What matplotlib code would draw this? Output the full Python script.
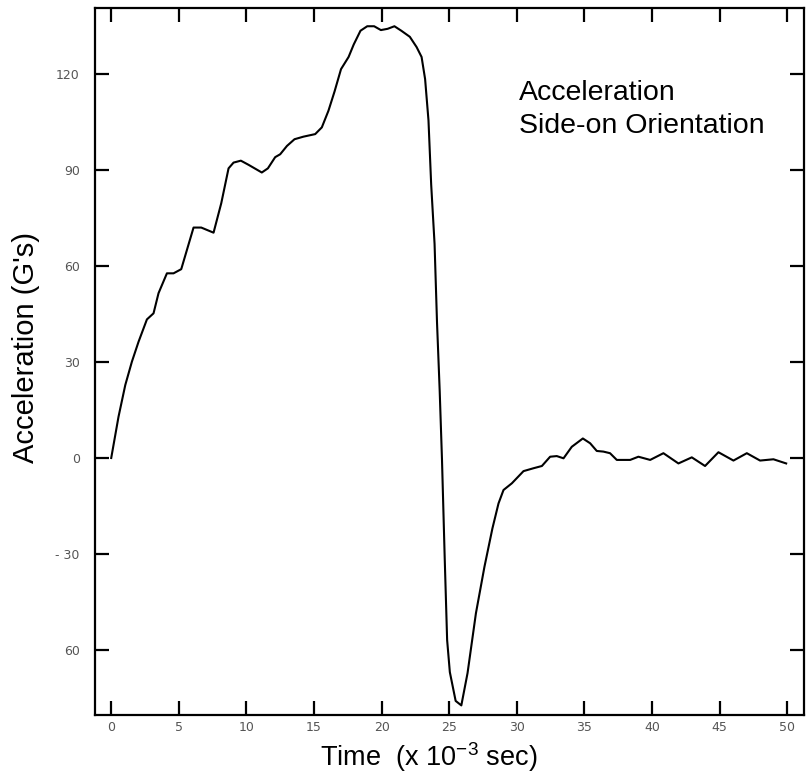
import matplotlib
matplotlib.use("Agg")
import matplotlib.pyplot as plt

plt.rcParams['font.family'] = ['Liberation Sans', 'DejaVu Sans']
plt.rcParams['mathtext.fontset'] = 'custom'
plt.rcParams['mathtext.rm'] = 'Liberation Sans'

# time in ms, acceleration in G's
time_ms = [0, 0.54, 1.04, 1.53, 2.02, 2.64, 3.13, 3.5, 4.12, 4.61,
           5.18, 6.09, 6.66, 7.57, 8.14, 8.68, 9.05, 9.59, 10.16, 11.14,
           11.59, 12.13, 12.5, 13.0, 13.56, 14.22, 15.09, 15.58, 16.07, 16.52,
           17.0, 17.56, 17.94, 18.44, 18.94, 19.45, 19.95, 20.45, 20.95, 21.46,
           22.09, 22.59, 22.96, 23.22, 23.47, 23.67, 23.92, 24.1, 24.3, 24.47,
           24.67, 24.85, 25.05, 25.48, 25.9, 26.36, 26.98, 27.61, 28.2, 28.65,
           29.02, 29.64, 30.5, 31.24, 31.86, 32.47, 32.96, 33.46, 34.07, 34.89,
           35.43, 35.92, 36.41, 36.9, 37.4, 38.39, 39.0, 39.87, 40.85, 41.96,
           42.95, 43.93, 44.92, 46.03, 47.02, 48.0, 48.99, 49.93]
accel_g = [0, 12.9, 22.8, 30.1, 36.3, 43.3, 45.2, 51.5, 57.7, 57.7,
           59, 72, 72, 70.4, 79.6, 90.5, 92.3, 92.9, 91.6, 89.2,
           90.5, 94, 94.9, 97.5, 99.6, 100.4, 101.2, 103.3, 108.5, 114.5,
           121.5, 125.3, 129.2, 133.5, 134.9, 134.9, 133.7, 134.1, 134.9, 133.5,
           131.6, 128.4, 125.3, 118.4, 105.5, 85.4, 66.9, 42.5, 20.9, -0.6,
           -31.2, -56.9, -66.9, -75.9, -77.3, -67.2, -48.5, -34, -22, -14.2,
           -10, -7.9, -4.1, -3.2, -2.5, 0.4, 0.6, -0.1, 3.5, 6.1,
           4.6, 2.2, 2.0, 1.5, -0.6, -0.6, 0.4, -0.6, 1.5, -1.7,
           0.2, -2.5, 1.8, -0.8, 1.5, -0.8, -0.4, -1.7]

x_ticks = list(range(0, 51, 5))
y_ticks = [120, 90, 60, 30, 0, -30, -60]
y_tick_labels = ['120', '90', '60', '30', '0', '- 30', '60']

fig = plt.figure(figsize=(8.07, 7.83), dpi=100)
ax = fig.add_axes([95 / 807, 1 - 715 / 783, (804 - 95) / 807, (715 - 8) / 783])

ax.plot(time_ms, accel_g, color='black', lw=1.5)

ax.set_xlim(-1.2, 51.25)
ax.set_ylim(-80.3, 140.6)
ax.set_xticks(x_ticks)
ax.set_xticklabels([str(v) for v in x_ticks], family='DejaVu Sans')
ax.set_yticks(y_ticks)
ax.set_yticklabels(y_tick_labels, family='DejaVu Sans')
ax.tick_params(direction='in', length=10, width=1.6, top=True, right=True,
               labelsize=9, labelcolor='#555555')
ax.tick_params(axis='y', pad=11)
ax.tick_params(axis='x', pad=4.5)
for s in ax.spines.values():
    s.set_linewidth(1.6)

ax.set_xlabel('Time  (x 10$^{\\mathregular{-3}}$ sec)', fontsize=19.5, va='top')
ax.xaxis.set_label_coords(0.471, -0.036)
ax.set_ylabel("Acceleration (G's)", fontsize=21)
ax.yaxis.set_label_coords(-0.078, 0.52)

fig.text(519 / 807, 1 - 100 / 783, 'Acceleration', fontsize=20.5, va='baseline')
fig.text(519 / 807, 1 - 133 / 783, 'Side-on Orientation', fontsize=20.5, va='baseline')

fig.savefig('out.png', dpi=100)
